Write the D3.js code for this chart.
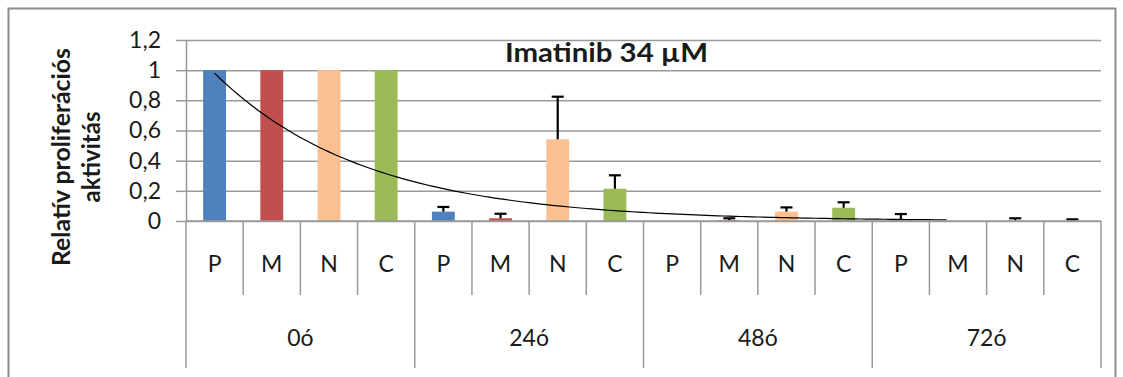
<!DOCTYPE html>
<html>
<head>
<meta charset="utf-8">
<script src="https://cdn.jsdelivr.net/npm/d3@7"></script>
<style>
    body { margin: 0; background: #fff; }
    text { font-family: Lato, "Open Sans", sans-serif; fill: #1a1a1a; }
</style>
</head>
<body>
<div id="chart"></div>
<script>

// time points and cell lines
var groups = ["0ó", "24ó", "48ó", "72ó"];
var cells = ["P", "M", "N", "C"];
var cellColors = ["#4F81BD", "#C0504D", "#FAC090", "#9BBB59"];

// mean values for each time point (P, M, N, C)
var values0 = [1, 1, 1, 1];
var values24 = [0.062, 0.018, 0.542, 0.214];
var values48 = [0, 0.005, 0.062, 0.088];
var values72 = [0.005, 0, 0.003, 0.002];

// plus error bars
var err0 = [0, 0, 0, 0];
var err24 = [0.031, 0.03, 0.282, 0.089];
var err48 = [0, 0.013, 0.028, 0.036];
var err72 = [0.041, 0, 0.015, 0.009];

var yTicks = [0, 0.2, 0.4, 0.6, 0.8, 1, 1.2];
var yTickLabels = ["0", "0,2", "0,4", "0,6", "0,8", "1", "1,2"];

// exponential trendline y = a * e^(b * x), x = category index
var trendA = 0.98, trendB = -0.38, trendEnd = 12.86;

var allValues = [values0, values24, values48, values72];
var allErr = [err0, err24, err48, err72];

// flatten to one row per bar
var rows = [];
groups.forEach(function(g, gi) {
    cells.forEach(function(c, ci) {
        rows.push({ key: g + "-" + c, group: g, cell: c, ci: ci,
                    value: allValues[gi][ci], err: allErr[gi][ci] });
    });
});

var width = 1123, height = 377;
var plotL = 186, plotR = 1101, plotT = 40, plotB = 221;

var svg = d3.select("#chart")
    .append("svg")
    .attr("width", width)
    .attr("height", height);

svg.append("rect")
    .attr("width", width)
    .attr("height", height)
    .attr("fill", "#fff");

// chart border
svg.append("path")
    .attr("d", "M8.5,377V8.5H1115.5V377")
    .attr("fill", "none")
    .attr("stroke", "#8c8c8c")
    .attr("stroke-width", 2);

var x = d3.scaleBand()
    .domain(rows.map(function(d) { return d.key; }))
    .range([plotL, plotR]);

var y = d3.scaleLinear()
    .domain([0, 1.2])
    .range([plotB, plotT]);

// gridlines
svg.append("g")
    .attr("class", "grid")
    .attr("transform", "translate(" + plotL + ",0)")
    .call(d3.axisLeft(y).tickValues(yTicks).tickSize(-(plotR - plotL)).tickFormat(""))
    .call(function(g) {
        g.select(".domain").remove();
        g.selectAll("line").attr("stroke", "#9a9a9a").attr("stroke-width", 1.5);
    });

// y axis
var yAxis = svg.append("g")
    .attr("transform", "translate(" + plotL + ",0)")
    .call(d3.axisLeft(y)
        .tickValues(yTicks)
        .tickFormat(function(d, i) { return yTickLabels[i]; })
        .tickSize(10)
        .tickSizeOuter(0)
        .tickPadding(15));
yAxis.select(".domain").attr("stroke", "#9a9a9a").attr("stroke-width", 1.5);
yAxis.selectAll("line").attr("stroke", "#9a9a9a").attr("stroke-width", 1.5);
yAxis.selectAll("text")
    .style("font-size", "23px")
    .style("font-family", "Lato, sans-serif")
    .attr("fill", "#1a1a1a");

// bars
var barW = x.bandwidth() * 0.4;
svg.append("g").selectAll("rect")
    .data(rows)
    .enter()
    .append("rect")
        .attr("x", function(d) { return x(d.key) + (x.bandwidth() - barW) / 2; })
        .attr("y", function(d) { return y(d.value); })
        .attr("width", barW)
        .attr("height", function(d) { return y(0) - y(d.value); })
        .attr("fill", function(d) { return cellColors[d.ci]; });

// error bars (plus only)
var eb = svg.append("g").selectAll("g")
    .data(rows.filter(function(d) { return d.err > 0; }))
    .enter()
    .append("g")
    .attr("stroke", "#000")
    .attr("stroke-width", 2.2);
eb.append("line")
    .attr("x1", function(d) { return x(d.key) + x.bandwidth() / 2; })
    .attr("x2", function(d) { return x(d.key) + x.bandwidth() / 2; })
    .attr("y1", function(d) { return y(d.value); })
    .attr("y2", function(d) { return y(d.value + d.err); });
eb.append("line")
    .attr("x1", function(d) { return x(d.key) + x.bandwidth() / 2 - 6; })
    .attr("x2", function(d) { return x(d.key) + x.bandwidth() / 2 + 6; })
    .attr("y1", function(d) { return y(d.value + d.err); })
    .attr("y2", function(d) { return y(d.value + d.err); });

// trendline
var step = x.step();
var trendPts = d3.range(0, trendEnd + 0.001, 0.1).map(function(i) {
    return [plotL + step * (i + 0.5), y(trendA * Math.exp(trendB * i))];
});
svg.append("path")
    .datum(trendPts)
    .attr("d", d3.line())
    .attr("fill", "none")
    .attr("stroke", "#000")
    .attr("stroke-width", 1.2);

// category axis (two levels)
var catAxis = svg.append("g").attr("class", "catAxis");
catAxis.append("line")
    .attr("x1", plotL).attr("x2", plotR)
    .attr("y1", plotB).attr("y2", plotB)
    .attr("stroke", "#9a9a9a").attr("stroke-width", 1.5);

d3.range(rows.length + 1).forEach(function(i) {
    var isGroup = i % cells.length == 0;
    catAxis.append("line")
        .attr("x1", plotL + step * i).attr("x2", plotL + step * i)
        .attr("y1", plotB).attr("y2", isGroup ? 368 : 295)
        .attr("stroke", "#9a9a9a").attr("stroke-width", 1.5);
});

catAxis.selectAll(".cellLabel")
    .data(rows)
    .enter()
    .append("text")
        .attr("class", "cellLabel")
        .attr("x", function(d) { return x(d.key) + x.bandwidth() / 2; })
        .attr("y", 272)
        .attr("text-anchor", "middle")
        .style("font-size", "23px")
        .text(function(d) { return d.cell; });

catAxis.selectAll(".groupLabel")
    .data(groups)
    .enter()
    .append("text")
        .attr("class", "groupLabel")
        .attr("x", function(d, i) { return plotL + step * cells.length * (i + 0.5); })
        .attr("y", 346)
        .attr("text-anchor", "middle")
        .style("font-size", "23px")
        .text(function(d) { return d; });

// title
svg.append("text")
    .attr("x", 505)
    .attr("y", 62)
    .attr("textLength", 203)
    .attr("lengthAdjust", "spacingAndGlyphs")
    .style("font-size", "27px")
    .style("font-weight", "bold")
    .attr("fill", "#000")
    .text("Imatinib 34 µM");

// y axis title
var yTitle = svg.append("g")
    .attr("transform", "translate(0,157) rotate(-90)");
yTitle.append("text")
    .attr("x", 0).attr("y", 70)
    .attr("text-anchor", "middle")
    .attr("textLength", 218)
    .attr("lengthAdjust", "spacingAndGlyphs")
    .style("font-size", "24px")
    .style("font-weight", "bold")
    .attr("fill", "#000")
    .text("Relatív proliferációs");
yTitle.append("text")
    .attr("x", 0).attr("y", 100)
    .attr("text-anchor", "middle")
    .attr("textLength", 91)
    .attr("lengthAdjust", "spacingAndGlyphs")
    .style("font-size", "24px")
    .style("font-weight", "bold")
    .attr("fill", "#000")
    .text("aktivitás");

</script>
</body>
</html>
